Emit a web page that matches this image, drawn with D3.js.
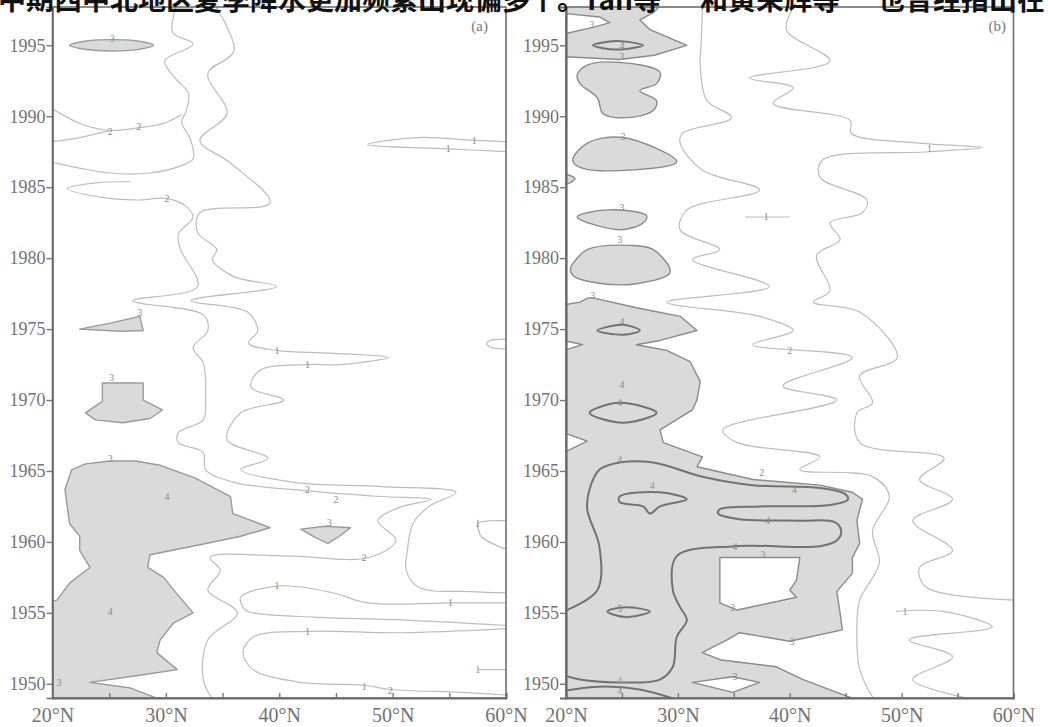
<!DOCTYPE html>
<html>
<head>
<meta charset="utf-8">
<script src="https://cdn.jsdelivr.net/npm/d3@7"></script>
<style>
body { margin: 0; background: #fff; }
svg { display: block; }
</style>
</head>
<body>
<script>
const W = 1048, H = 727;

const yearTicks = [1950, 1955, 1960, 1965, 1970, 1975, 1980, 1985, 1990, 1995];
const latTicks = [20, 25, 30, 35, 40, 45, 50, 55, 60];

// text line of the page above the figure (only its lower half is in the frame)
const headText = [
    ["中期西中北地区夏季降水更加频繁出现偏多", -2, 532],
    ["个。", 529, 0],
    ["Tan等", 583, 0],
    ["和黄荣辉等", 700, 0],
    ["也曾经指出在", 877, 0]
];

// ---- panel (a): [lat, year] ----
const aShadeRound = [
    [[21.5, 1995.0], [23.0, 1995.3], [25.2, 1995.4], [27.5, 1995.3], [28.9, 1995.0], [27.5, 1994.7], [25.2, 1994.6], [23.0, 1994.7]]
];
const aShade = [
    [[22.4, 1975.0], [25.0, 1975.4], [27.7, 1975.9], [28.0, 1974.9], [26.0, 1974.85]],
    [[24.4, 1971.2], [28.0, 1971.2], [28.0, 1970.0], [29.7, 1969.3], [28.6, 1968.7], [26.2, 1968.4], [23.8, 1968.6], [22.9, 1969.1], [24.4, 1969.9]],
    [[21.7, 1965.1], [22.9, 1965.5], [25.1, 1965.7], [27.3, 1965.7], [29.5, 1965.4], [32.6, 1964.5], [35.7, 1963.2], [35.9, 1962.0],
     [39.2, 1961.0], [36.6, 1960.4], [33.0, 1959.8], [28.6, 1959.1], [28.4, 1958.2], [29.8, 1957.5], [30.7, 1956.6], [32.4, 1955.0],
     [30.7, 1954.3], [29.5, 1953.1], [29.2, 1952.2], [31.0, 1951.0], [27.7, 1950.6], [23.3, 1950.1], [26.9, 1949.7], [29.8, 1948.8],
     [19.8, 1948.8], [19.8, 1955.8], [20.4, 1955.9], [21.5, 1957.1], [23.3, 1958.2], [22.4, 1959.4], [22.4, 1960.4], [21.5, 1961.3],
     [21.3, 1962.5], [21.1, 1963.7]],
    [[41.9, 1960.9], [44.0, 1961.1], [46.3, 1961.0], [45.3, 1960.4], [44.3, 1959.9], [43.2, 1960.3]]
];
const aLines = [
    [[31.0, 1998], [30.6, 1995.9], [32.4, 1995.1], [29.9, 1993.9], [30.8, 1992.7], [32.0, 1991.6], [31.8, 1990.4], [31.4, 1989.6],
     [32.2, 1988.3], [32.4, 1987.0], [31.3, 1986.5], [28.6, 1986.0], [25.1, 1986.0], [19.8, 1986.8]],
    [[19.8, 1990.6], [22.7, 1989.4], [25.1, 1989.0], [27.7, 1989.2], [29.8, 1989.5], [31.4, 1990.1]],
    [[19.8, 1988.2], [22.4, 1988.5], [25.1, 1989.0]],
    [[26.9, 1985.4], [23.8, 1985.3], [21.3, 1984.9], [24.2, 1984.3], [27.3, 1984.1], [30.1, 1984.2], [31.7, 1983.7], [32.4, 1982.9],
     [31.1, 1981.7], [31.3, 1980.6], [32.8, 1978.0], [27.1, 1977.0], [33.3, 1976.0], [33.7, 1974.9], [32.4, 1973.7], [33.3, 1972.6],
     [33.5, 1970.0], [33.3, 1968.6], [31.1, 1967.7], [31.1, 1967.0], [33.3, 1966.3], [33.5, 1965.1], [36.0, 1964.2], [42.5, 1963.6],
     [49.0, 1963.2], [53.4, 1963.0], [50.5, 1962.4], [48.7, 1961.5], [50.3, 1960.1], [47.9, 1958.9], [41.0, 1959.0], [33.9, 1958.9],
     [34.8, 1958.0], [33.7, 1956.6], [36.3, 1955.0], [33.7, 1953.1], [33.3, 1950.3], [34.2, 1948.8]],
    [[34.2, 1998], [36.0, 1994.6], [33.7, 1993.0], [35.4, 1990.2], [33.0, 1988.3], [35.7, 1986.7], [39.2, 1983.9], [33.0, 1983.2],
     [32.8, 1981.8], [34.5, 1980.6], [34.1, 1979.9], [36.0, 1978.7], [39.8, 1978.0], [32.2, 1977.0], [37.2, 1976.2], [38.1, 1974.9],
     [37.3, 1974.0], [39.8, 1973.5], [44.5, 1973.3], [49.6, 1973.0], [45.4, 1972.5], [42.5, 1972.5], [38.3, 1972.1], [37.5, 1970.9],
     [40.4, 1970.0], [36.6, 1969.1], [35.4, 1967.2], [39.0, 1965.9], [36.6, 1965.1], [41.3, 1964.2], [49.0, 1963.9], [55.6, 1963.5],
     [53.2, 1962.5], [51.8, 1961.3], [51.3, 1959.4], [51.2, 1958.0], [52.3, 1956.8], [56.9, 1956.5], [60.2, 1956.4]],
    [[60.2, 1988.2], [57.2, 1988.3], [52.2, 1988.5], [47.8, 1988.0], [54.9, 1987.7], [60.2, 1987.5]],
    [[60.2, 1974.3], [58.6, 1974.2], [58.3, 1974.0], [58.7, 1973.7], [60.2, 1973.6]],
    [[60.2, 1961.5], [57.5, 1961.3], [57.6, 1960.8], [57.8, 1960.4], [59.6, 1959.6], [60.2, 1959.5]],
    [[60.2, 1951.0], [57.5, 1951.0]],
    [[60.2, 1955.7], [55.1, 1955.7], [47.8, 1955.7], [44.8, 1956.4], [40.1, 1956.9], [36.6, 1956.1], [37.0, 1955.2], [37.7, 1955.0],
     [43.0, 1954.7], [50.7, 1954.5], [60.2, 1954.1]],
    [[60.2, 1953.9], [50.7, 1953.6], [42.5, 1953.7], [37.7, 1953.3], [36.8, 1952.2], [37.7, 1951.0], [41.9, 1950.1], [47.5, 1949.9],
     [49.8, 1949.6], [56.0, 1949.4], [60.2, 1949.2]]
];
const aLabels = [
    [25.3, 1995.45, "3"], [25.1, 1988.9, "2"], [27.6, 1989.25, "2"], [30.1, 1984.2, "2"], [57.2, 1988.3, "1"], [54.9, 1987.7, "1"],
    [27.7, 1976.2, "3"], [39.8, 1973.5, "1"], [42.5, 1972.5, "1"], [25.2, 1971.6, "3"], [25.1, 1965.9, "3"], [30.1, 1963.2, "4"],
    [42.5, 1963.7, "2"], [45.0, 1963.0, "2"], [44.4, 1961.4, "3"], [47.5, 1958.9, "2"], [57.5, 1961.3, "1"], [39.8, 1956.9, "1"],
    [55.1, 1955.7, "1"], [25.1, 1955.1, "4"], [42.5, 1953.7, "1"], [57.5, 1951.0, "1"], [47.5, 1949.8, "1"], [49.8, 1949.5, "2"],
    [20.6, 1950.1, "3"]
];

// ---- panel (b): [lat, year] ----
const bShade = [
    [[19.8, 1998], [28.7, 1998], [27.8, 1997.3], [26.6, 1996.8], [27.5, 1996.1], [30.8, 1995.0], [27.9, 1994.3], [24.8, 1994.0],
     [19.8, 1994.2], [19.8, 1995.8], [22.6, 1996.3], [23.9, 1996.6], [23.0, 1997.0], [19.8, 1997.25]],
    [[19.8, 1976.7], [21.25, 1976.9], [22.0, 1977.2], [22.4, 1977.2], [26.3, 1976.5], [30.2, 1975.9], [31.7, 1974.9], [28.4, 1974.2],
     [26.3, 1973.9], [29.0, 1973.5], [31.1, 1972.7], [32.0, 1971.3], [31.7, 1970.0], [31.3, 1969.3], [28.4, 1967.9], [28.7, 1967.0],
     [32.2, 1966.0], [31.7, 1965.3], [36.7, 1964.4], [42.7, 1964.0], [45.6, 1963.5], [46.5, 1963.0], [46.0, 1961.5], [46.25, 1959.9],
     [45.6, 1958.9], [45.6, 1957.8], [44.2, 1956.5], [44.5, 1955.0], [44.7, 1953.8], [40.0, 1953.0], [35.5, 1953.6], [34.4, 1953.1],
     [32.9, 1952.5], [32.2, 1952.2], [33.75, 1951.7], [38.8, 1951.2], [41.2, 1950.3], [44.2, 1949.4], [46.25, 1948.8], [19.8, 1948.8],
     [19.8, 1966.3], [21.9, 1967.1], [19.8, 1967.7], [19.8, 1973.5], [21.5, 1973.9], [19.8, 1974.2]]
];
const bShadeRound = [
    [[21.0, 1992.9], [21.9, 1993.6], [24.8, 1993.8], [28.4, 1993.1], [28.1, 1992.3], [26.6, 1991.8], [28.1, 1991.1], [27.8, 1990.4],
     [25.4, 1989.9], [23.3, 1990.2], [22.8, 1991.3], [21.25, 1992.3]],
    [[20.6, 1986.9], [21.9, 1988.1], [25.1, 1988.5], [29.9, 1986.8], [25.7, 1986.2], [21.25, 1986.4]],
    [[19.8, 1985.9], [20.8, 1985.6], [19.8, 1985.2]],
    [[21.0, 1982.9], [23.7, 1983.4], [27.2, 1983.0], [26.9, 1982.5], [24.8, 1982.0]],
    [[20.6, 1979.6], [21.9, 1980.6], [25.7, 1980.9], [27.8, 1980.6], [29.3, 1979.0], [26.3, 1978.2], [22.4, 1978.3], [20.6, 1978.8], [20.4, 1979.3]]
];
const bHoles = [
    [[33.75, 1958.9], [40.9, 1958.9], [40.6, 1957.3], [40.0, 1956.6], [40.6, 1956.1], [35.3, 1955.2], [33.75, 1955.7], [33.75, 1957.3]],
    [[31.3, 1950.1], [34.9, 1950.5], [37.3, 1950.1], [34.9, 1949.4]]
];
const bDarkRound = [
    [[22.4, 1995.0], [24.5, 1995.3], [26.9, 1995.0], [24.5, 1994.7]],
    [[22.8, 1974.9], [25.1, 1975.3], [26.6, 1974.9], [25.1, 1974.6]],
    [[22.1, 1969.1], [24.8, 1969.8], [28.1, 1969.1], [25.1, 1968.4]],
    [[24.8, 1963.2], [28.4, 1963.5], [30.8, 1963.0], [28.4, 1962.5], [27.5, 1962.0], [26.9, 1962.5], [24.8, 1962.8]],
    [[23.7, 1955.1], [25.3, 1955.4], [27.5, 1955.1], [25.3, 1954.7]]
];
const bDark = [
    [[19.8, 1955.1], [22.8, 1956.6], [23.0, 1959.6], [21.9, 1962.3], [22.1, 1963.7], [23.0, 1965.1], [24.8, 1965.6], [27.8, 1965.6],
     [32.2, 1964.6], [36.7, 1964.0], [42.7, 1963.8], [44.9, 1963.4], [45.2, 1963.0], [43.6, 1962.6], [37.3, 1962.5], [33.75, 1962.3],
     [33.6, 1962.0], [35.5, 1961.6], [40.9, 1961.5], [44.0, 1961.4], [44.6, 1960.8], [44.2, 1960.1], [42.7, 1959.7], [35.1, 1959.7],
     [29.9, 1959.0], [29.55, 1956.6], [30.2, 1955.4], [30.8, 1954.5], [29.9, 1953.3], [29.55, 1951.2], [28.4, 1950.3], [24.8, 1950.1],
     [21.25, 1950.3], [19.8, 1950.6]],
    [[19.8, 1949.5], [23.0, 1949.8], [26.6, 1949.6], [30.2, 1948.8]]
];
const bLines = [
    [[32.2, 1998], [32.1, 1995.4], [32.0, 1993.5], [32.6, 1991.1], [34.8, 1989.9], [30.4, 1988.8], [30.2, 1988.1], [32.2, 1986.2],
     [37.3, 1984.8], [30.8, 1983.4], [30.2, 1982.0], [33.75, 1980.6], [31.3, 1979.9], [38.2, 1978.0], [29.0, 1976.9], [37.3, 1975.9],
     [40.3, 1974.9], [36.7, 1973.9], [45.6, 1973.0], [39.4, 1971.0], [44.2, 1970.0], [34.0, 1967.9], [35.3, 1967.0], [42.7, 1966.0],
     [40.9, 1965.1], [47.4, 1964.6], [48.9, 1963.2], [47.4, 1960.8], [48.0, 1958.5], [46.25, 1955.9], [46.0, 1953.8], [46.25, 1951.0],
     [47.6, 1948.8]],
    [[40.6, 1998], [39.7, 1996.1], [43.6, 1993.9], [36.4, 1992.7], [40.3, 1992.0], [38.5, 1990.9], [45.4, 1989.7], [45.5, 1988.8],
     [51.6, 1988.1], [57.2, 1987.8], [52.5, 1987.5], [42.9, 1986.9], [42.7, 1985.7], [46.9, 1984.1], [46.5, 1983.2], [43.6, 1982.5],
     [44.5, 1981.3], [42.4, 1980.2], [43.6, 1977.7], [42.1, 1976.9], [46.25, 1976.2], [49.6, 1973.0], [46.25, 1971.7], [47.4, 1969.8],
     [46.0, 1969.1], [46.25, 1967.0], [53.8, 1965.9], [51.6, 1964.4], [54.55, 1963.0], [51.0, 1961.5], [54.55, 1959.4], [51.6, 1958.2],
     [52.2, 1956.8], [60.2, 1955.9]],
    [[49.5, 1955.1], [53.7, 1955.1], [58.1, 1954.0], [50.7, 1953.1], [54.55, 1951.9], [51.0, 1950.3], [57.0, 1948.8]],
    [[36.0, 1982.9], [40.0, 1982.9]]
];
const bLabels = [
    [22.3, 1996.5, "3"], [25.0, 1995.0, "4"], [25.0, 1994.2, "3"], [25.1, 1988.6, "3"], [25.0, 1983.6, "3"], [24.8, 1981.3, "3"],
    [52.5, 1987.7, "1"], [37.9, 1982.9, "1"], [22.4, 1977.4, "3"], [25.0, 1975.5, "4"], [40.0, 1973.5, "2"], [25.0, 1971.1, "4"],
    [24.8, 1969.8, "4"], [24.8, 1965.8, "4"], [37.5, 1964.9, "2"], [27.7, 1964.0, "4"], [40.4, 1963.7, "4"], [38.0, 1961.5, "4"],
    [35.1, 1959.7, "4"], [37.6, 1959.1, "3"], [34.9, 1955.4, "3"], [24.8, 1955.3, "5"], [50.3, 1955.1, "1"], [40.2, 1953.0, "3"],
    [35.1, 1950.5, "3"], [24.8, 1950.2, "4"], [24.8, 1949.5, "4"]
];

const TOP = 7, BOTTOM = 698;
const SHADE = "#dadada";
const SERIF = "'Liberation Serif', 'DejaVu Serif', 'Noto Serif', serif";

const svg = d3.select("body").append("svg")
    .attr("width", W)
    .attr("height", H);

const y = d3.scaleLinear().domain([1949, 1997.7]).range([BOTTOM, TOP]);

const panels = [
    { name: "a", left: 52.5, right: 506, tagX: 488, shade: aShade, shadeRound: aShadeRound, holes: [], dark: [], darkRound: [],
      lines: aLines, labels: aLabels, edge: "#9a9a9a" },
    { name: "b", left: 566, right: 1013.5, tagX: 1006, shade: bShade, shadeRound: bShadeRound, holes: bHoles, dark: bDark, darkRound: bDarkRound,
      lines: bLines, labels: bLabels, edge: "#8a8a8a" }
];

panels.forEach(drawPanel);
drawHead();

function drawPanel(p) {
    const x = d3.scaleLinear().domain([20, 60]).range([p.left, p.right]);
    const g = svg.append("g");

    svg.append("clipPath").attr("id", "clip-" + p.name)
        .append("rect")
        .attr("x", p.left).attr("y", TOP)
        .attr("width", p.right - p.left).attr("height", BOTTOM - TOP);

    const plot = g.append("g").attr("clip-path", `url(#clip-${p.name})`);

    const open = d3.line().x(d => x(d[0])).y(d => y(d[1])).curve(d3.curveCatmullRom.alpha(0.5));
    const closed = d3.line().x(d => x(d[0])).y(d => y(d[1])).curve(d3.curveLinearClosed);
    const round = d3.line().x(d => x(d[0])).y(d => y(d[1])).curve(d3.curveCatmullRomClosed.alpha(0.5));

    plot.selectAll(".shade").data(p.shade).enter().append("path")
        .attr("d", closed).attr("fill", SHADE)
        .attr("stroke", p.edge).attr("stroke-width", 1.4).attr("stroke-linejoin", "round");

    plot.selectAll(".shade-r").data(p.shadeRound).enter().append("path")
        .attr("d", round).attr("fill", SHADE)
        .attr("stroke", p.edge).attr("stroke-width", 1.4);

    plot.selectAll(".hole").data(p.holes).enter().append("path")
        .attr("d", closed).attr("fill", "#fff")
        .attr("stroke", p.edge).attr("stroke-width", 1.4).attr("stroke-linejoin", "round");

    plot.selectAll(".dark").data(p.dark).enter().append("path")
        .attr("d", open).attr("fill", "none")
        .attr("stroke", "#727272").attr("stroke-width", 2);

    plot.selectAll(".dark-r").data(p.darkRound).enter().append("path")
        .attr("d", round).attr("fill", "none")
        .attr("stroke", "#727272").attr("stroke-width", 2);

    plot.selectAll(".line").data(p.lines).enter().append("path")
        .attr("d", open).attr("fill", "none")
        .attr("stroke", "#bdbdbd").attr("stroke-width", 1.2)
        .attr("stroke-linejoin", "round");

    plot.selectAll(".lab").data(p.labels).enter().append("text")
        .attr("x", d => x(d[0])).attr("y", d => y(d[1]))
        .attr("text-anchor", "middle").attr("dy", "0.35em")
        .attr("font-family", SERIF).attr("font-size", 10)
        .attr("fill", "#8a8a8a")
        .text(d => d[2]);

    // frame
    g.append("rect")
        .attr("x", p.left).attr("y", TOP)
        .attr("width", p.right - p.left).attr("height", BOTTOM - TOP)
        .attr("fill", "none").attr("stroke", "#6e6e6e").attr("stroke-width", 1.6);

    const yAxis = g.append("g")
        .attr("transform", `translate(${p.left},0)`)
        .call(d3.axisLeft(y).tickValues(yearTicks).tickSize(6).tickPadding(1).tickFormat(d3.format("d")))
        .attr("font-family", SERIF).attr("font-size", 18);
    yAxis.select(".domain").attr("stroke", "#6a6a6a").attr("stroke-width", p.name === "b" ? 2.2 : 1.6);
    yAxis.selectAll(".tick line").attr("stroke", "#777").attr("stroke-width", 1.4);
    yAxis.selectAll("text").attr("fill", "#737373");

    const xAxis = g.append("g")
        .attr("transform", `translate(0,${BOTTOM})`)
        .call(d3.axisBottom(x).tickValues(latTicks).tickSize(-5).tickPadding(10)
            .tickFormat(d => d % 10 === 0 ? d + "°N" : ""))
        .attr("font-family", SERIF).attr("font-size", 20);
    xAxis.select(".domain").attr("stroke", "#6a6a6a").attr("stroke-width", 2);
    xAxis.selectAll(".tick line").attr("stroke", "#777").attr("stroke-width", 1.4);
    xAxis.selectAll("text").attr("fill", "#737373");

    g.append("text")
        .attr("x", p.tagX).attr("y", 31)
        .attr("text-anchor", "end")
        .attr("font-family", SERIF).attr("font-size", 15).attr("fill", "#777")
        .text("(" + p.name + ")");
}

function drawHead() {
    const t = svg.selectAll(".head").data(headText).enter().append("text")
        .attr("x", d => d[1]).attr("y", 10)
        .attr("font-family", "'Noto Sans CJK SC', sans-serif")
        .attr("font-size", 28).attr("font-weight", 600).attr("fill", "#111")
        .text(d => d[0]);
    t.filter(d => d[2] > 0)
        .attr("textLength", d => d[2])
        .attr("lengthAdjust", "spacing");
}
</script>
</body>
</html>
